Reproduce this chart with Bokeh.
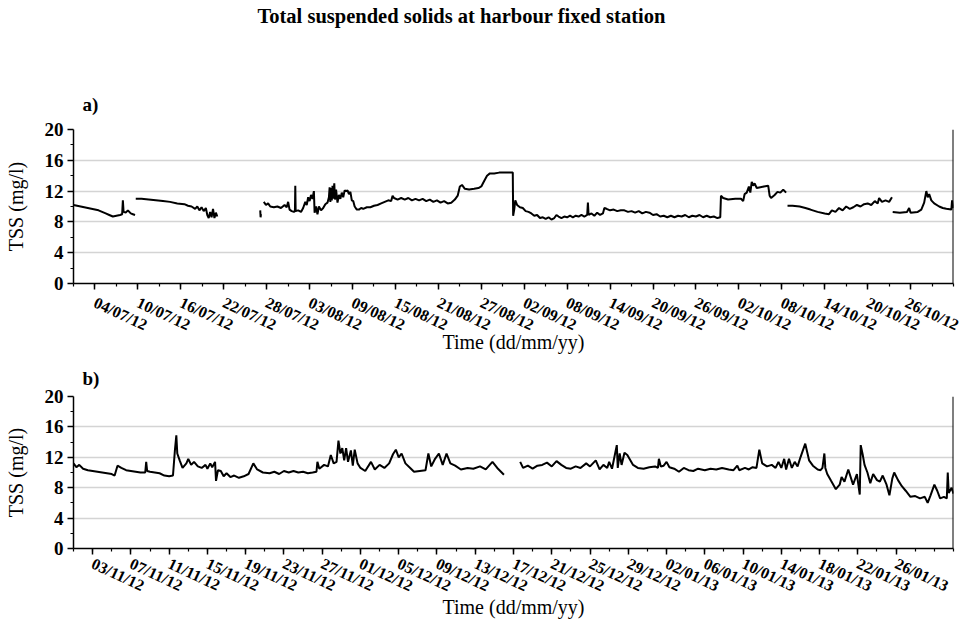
import numpy as np
import pandas as pd
from bokeh.plotting import figure
from bokeh.models import Range1d, FixedTicker, DatetimeTickFormatter, Title, Span
from bokeh.layouts import column
from bokeh.embed import file_html
from bokeh.resources import INLINE

TITLE = "Total suspended solids at harbour fixed station"
Y_LABEL = "TSS (mg/l)"
X_LABEL = "Time (dd/mm/yy)"
FONT = "Liberation Serif"

# ---------------- panel a) : 01/07/12 - 01/11/12 ----------------
A_START, A_END = "2012-07-01", "2012-11-01"
# days since A_START ; None = gap in the record
a_day = [0.0, 0.5, 1.0, 1.5, 2.0, 2.5, 3.0, 3.5, 4.0, 4.5, 5.0, 5.5, 6.0, 6.5, 6.8, 6.9, 7.0, 7.3, 7.6, 8.0, 8.3, 8.6, 8.65,
         8.7, 9.5, 10.5, 11.5, 12.5, 13.5, 14.5, 15.5, 16.0, 16.5, 17.0, 17.3, 17.6, 17.9, 18.2, 18.5,
         18.7, 18.9, 19.1, 19.3, 19.5, 19.7, 19.9, 20.1, 20.2,
         26.1, 26.15, 26.2, 26.3,
         26.6, 26.9, 27.2, 27.5, 28.0, 28.5, 29.0, 29.5, 29.8, 30.0, 30.2, 30.5, 30.8, 30.95, 31.0, 31.05, 31.4, 31.8,
         32.1, 32.4, 32.6, 32.8, 33.0, 33.2, 33.4, 33.6, 33.7, 33.9, 34.1, 34.3, 34.6, 34.9, 35.2, 35.5, 35.7, 35.8,
         35.9, 36.0, 36.1, 36.2, 36.3, 36.45, 36.55, 36.7, 36.9, 37.1, 37.3, 37.5, 37.7, 37.9, 38.1, 38.3, 38.5, 38.7,
         38.9, 39.1, 39.3, 39.6, 39.9, 40.2, 40.5, 41.0, 41.5, 42.0, 42.5, 43.0, 43.5, 44.0, 44.4, 44.6,
         44.8, 45.3, 45.8, 46.3, 46.8, 47.3, 47.8, 48.3, 48.8, 49.3, 49.8, 50.3, 50.8, 51.3, 51.8, 52.3,
         52.8, 53.3, 53.7, 54.0, 54.3, 54.7, 55.3, 56.0, 56.6, 57.0, 57.4,
         57.8, 58.2, 58.8, 59.5, 60.3, 61.0, 61.4, 61.45,
         61.6, 61.75, 62.0, 62.4, 62.8, 63.2, 63.6, 64.0, 64.4, 64.8, 65.2, 65.6, 66.0, 66.4, 66.8, 67.2, 67.5, 67.8,
         68.2, 68.6, 69.0, 69.4, 69.8, 70.2, 70.6, 71.0, 71.4, 71.8, 71.9, 72.0, 72.4, 72.8, 73.2, 73.6, 74.0, 74.2,
         74.5, 75.0, 75.5, 76.0, 76.5, 77.0, 77.5, 78.0, 78.5, 79.0, 79.5, 80.0, 80.5, 81.0, 81.5, 82.0, 82.5,
         83.0, 83.5, 84.0, 84.5, 85.0, 85.5, 86.0, 86.5, 87.0, 87.5, 88.0, 88.5, 89.0, 89.5, 90.0, 90.4,
         90.5, 90.8,
         91.5, 92.5, 93.3, 93.6, 93.8, 94.1, 94.4, 94.6, 94.8, 95.0, 95.2, 95.5, 96.0, 96.5, 97.1, 97.3, 97.5, 98.0,
         98.4, 98.8, 99.2, 99.6, 99.7,
         99.8, 100.5, 101.5, 102.3, 103.0, 104.0, 105.0, 105.6, 106.0, 106.5, 107.0, 107.5, 108.0, 108.5, 109.0,
         109.5, 110.0, 110.5, 111.0, 111.5, 112.0, 112.4, 112.6, 113.0, 113.5, 114.0, 114.4, 114.45,
         114.5, 115.5, 116.5, 116.8, 117.0, 118.0, 118.5, 118.9, 119.2, 119.4, 119.6, 119.9, 120.3, 121.0, 121.5,
         122.0, 122.7, 122.8, 123.0]
a_tss = [10.2, 10.1, 10.0, 9.9, 9.8, 9.7, 9.6, 9.5, 9.3, 9.1, 8.9, 8.7, 8.8, 8.9, 9.0, 10.8, 9.3, 9.2, 9.5, 9.1, 9.0, 8.9, None,
         11.0, 11.0, 10.9, 10.8, 10.7, 10.6, 10.4, 10.3, 10.1, 10.0, 9.7, 10.0, 9.5, 9.9, 9.4, 9.8,
         8.9, 8.5, 9.3, 8.6, 9.7, 8.5, 9.2, 8.7, None,
         9.5, 8.6, 9.0, None,
         10.6, 10.2, 10.4, 10.0, 9.9, 10.0, 9.8, 10.2, 9.9, 10.6, 9.6, 9.4, 9.3, 9.4, 12.7, 9.4, 9.5, 9.3,
         9.8, 10.6, 10.2, 11.2, 10.7, 11.5, 11.0, 12.0, 9.2, 10.0, 9.0, 10.0, 9.5, 9.8, 10.3, 10.5, 11.2, 12.5,
         10.6, 12.4, 10.8, 12.7, 11.0, 13.0, 10.9, 12.2, 10.5, 11.5, 11.0, 11.8, 11.2, 12.1, 12.0, 12.1, 11.6, 11.9,
         10.8, 10.7, 10.0, 9.6, 9.6, 9.8, 9.7, 9.9, 9.9, 10.1, 10.2, 10.4, 10.6, 10.8, 10.7, 11.4,
         11.1, 10.9, 11.1, 10.9, 11.1, 10.8, 11.0, 10.8, 11.0, 10.7, 10.9, 10.6, 10.8, 10.5, 10.7, 10.4,
         10.5, 10.9, 11.4, 12.6, 12.8, 12.3, 12.2, 12.3, 12.4, 12.6, 13.3,
         14.0, 14.3, 14.3, 14.4, 14.4, 14.4, 14.4, 8.8,
         9.6, 10.8, 10.2, 9.9, 9.8, 9.4, 9.3, 9.1, 8.8, 8.9, 8.5, 8.6, 8.4, 8.6, 8.3, 8.5, 8.9, 8.7,
         8.5, 8.7, 8.6, 8.8, 8.6, 8.8, 8.7, 8.9, 8.7, 8.9, 10.5, 8.9, 9.1, 8.8, 9.2, 8.9, 9.1, 9.8,
         9.7, 9.5, 9.6, 9.4, 9.5, 9.5, 9.3, 9.4, 9.2, 9.4, 9.1, 9.3, 9.2, 8.9, 9.0, 8.7, 8.8,
         8.6, 8.8, 8.6, 8.8, 8.7, 8.9, 8.6, 8.8, 8.7, 8.9, 8.6, 8.8, 8.6, 8.7, 8.5, 8.6,
         11.4, 11.1,
         10.9, 11.0, 11.0, 10.7, 11.6, 11.8, 12.6, 11.8, 13.2, 12.7, 13.0, 12.4, 12.5, 12.6, 12.7, 11.4, 11.1, 11.5,
         11.9, 11.8, 12.2, 11.8, None,
         10.1, 10.1, 10.0, 9.8, 9.6, 9.3, 9.1, 9.0, 9.5, 9.3, 9.8, 9.5, 10.0, 9.7, 9.9,
         10.2, 10.0, 10.3, 10.4, 10.2, 10.7, 10.4, 11.1, 10.6, 10.8, 10.6, 11.2, None,
         9.3, 9.2, 9.3, 9.8, 9.2, 9.3, 9.6, 10.5, 12.0, 11.2, 11.6, 10.8, 10.4, 10.0, 9.8,
         9.7, 9.6, 10.8, 9.8]
a_ticks = ["2012-07-04", "2012-07-10", "2012-07-16", "2012-07-22", "2012-07-28", "2012-08-03", "2012-08-09",
           "2012-08-15", "2012-08-21", "2012-08-27", "2012-09-02", "2012-09-08", "2012-09-14", "2012-09-20",
           "2012-09-26", "2012-10-02", "2012-10-08", "2012-10-14", "2012-10-20", "2012-10-26"]

# ---------------- panel b) : 01/11/12 - 01/02/13 ----------------
B_START, B_END = "2012-11-01", "2013-02-01"
b_day = [0.0, 0.3, 0.6, 1.0, 1.5, 2.0, 2.5, 3.0, 3.5, 4.0, 4.3, 4.6, 5.0, 5.5, 6.0, 6.5, 7.0, 7.5, 7.6, 7.7, 8.0,
         8.5, 9.0, 9.5, 10.0, 10.4, 10.6, 10.75, 10.85, 11.1, 11.4, 11.8, 12.0, 12.3, 12.6, 13.0, 13.4, 13.8, 14.0,
         14.3, 14.5, 14.8, 14.9, 15.1, 15.4, 15.7, 16.0, 16.4, 16.8, 17.3, 17.8, 18.3, 18.8, 19.2, 19.8, 20.5, 21.0,
         21.5, 22.0, 22.5, 23.0, 23.5, 24.0, 24.5, 25.0, 25.4, 25.5, 25.7, 26.2, 26.6, 26.9, 27.2, 27.5, 27.7, 27.9,
         28.1, 28.3, 28.5, 28.7, 29.0, 29.2, 29.4, 29.7, 30.0, 30.5, 31.1, 31.5, 32.0, 32.5, 33.0, 33.4, 33.7, 34.0,
         34.3, 34.7, 35.2, 35.6, 36.2, 36.8, 37.1, 37.4, 37.8, 38.2, 38.6, 39.0, 39.4, 39.9, 40.5, 41.2, 41.8, 42.5,
         43.1, 43.8, 44.3, 45.0, 45.1,
         46.7, 47.0, 47.5, 48.0, 48.5, 49.0, 49.5, 50.0, 50.5, 51.0, 51.5, 52.0, 52.5, 53.0, 53.6, 54.0, 54.6, 55.0,
         55.4, 55.8, 56.0, 56.3, 56.8, 56.9, 57.1, 57.3, 57.6, 57.9, 58.5, 59.0, 59.6, 60.2, 60.8, 61.1, 61.2, 61.4,
         61.7, 62.0, 62.3, 62.8, 63.3, 63.8, 64.3, 64.8, 65.3, 66.0, 66.6, 67.2, 67.8, 68.5, 69.0, 69.4, 69.6, 70.2,
         70.6, 71.0, 71.4, 71.7, 72.0, 72.5, 73.0, 73.4, 73.7, 74.0, 74.3, 74.5, 74.8, 75.1, 75.4, 75.7, 76.0, 76.5,
         76.9, 77.3, 77.8, 78.1, 78.3, 78.5, 78.6, 78.8, 79.2, 79.7, 80.1, 80.3, 80.6, 81.0, 81.3, 81.5, 81.9, 82.2,
         82.3, 82.5, 82.7, 83.0, 83.3, 83.6, 84.0, 84.3, 84.6, 85.0, 85.3, 85.6, 85.8, 86.2, 86.6, 87.0, 87.5, 88.0,
         88.5, 89.0, 89.3, 89.6, 90.0, 90.3, 90.6, 91.0, 91.3, 91.4, 91.5, 91.8, 92.0]
b_tss = [11.2, 10.7, 11.0, 10.5, 10.3, 10.2, 10.1, 10.0, 9.9, 9.8, 9.6, 10.9, 10.6, 10.3, 10.2, 10.1, 10.0, 10.0, 11.4, 10.2, 10.1,
         10.0, 9.9, 9.6, 9.5, 9.6, 12.9, 14.9, 12.5, 11.6, 10.6, 11.2, 11.8, 11.0, 11.4, 10.8, 10.6, 11.0, 10.5,
         11.2, 10.7, 11.4, 8.9, 10.3, 10.2, 9.5, 9.9, 9.4, 9.6, 9.3, 9.5, 9.8, 11.2, 10.4, 10.0, 9.9, 10.1,
         9.8, 10.2, 10.0, 10.2, 10.0, 10.1, 9.9, 10.0, 10.1, 11.4, 10.5, 11.0, 10.8, 12.3, 11.2, 11.4, 14.2, 12.5,
         13.2, 11.6, 13.2, 11.4, 12.9, 10.9, 13.0, 11.2, 10.6, 10.2, 11.4, 10.4, 11.0, 10.6, 11.2, 12.4, 13.0, 12.0,
         12.5, 11.2, 10.6, 10.1, 10.2, 10.3, 12.5, 10.8, 11.8, 12.5, 11.0, 12.5, 11.2, 10.9, 10.4, 10.6, 10.5, 10.8,
         10.4, 11.4, 10.6, 9.7, None,
         11.4, 10.6, 10.9, 10.5, 10.9, 11.0, 11.3, 10.8, 11.5, 11.0, 10.6, 10.5, 10.8, 10.6, 11.2, 10.8, 11.6, 10.4,
         11.0, 10.6, 11.4, 10.5, 13.6, 10.6, 12.5, 11.0, 12.6, 12.3, 11.0, 10.6, 10.5, 10.7, 10.8, 10.6, 11.8, 10.8,
         10.9, 11.4, 10.7, 10.5, 10.1, 10.6, 10.3, 10.2, 10.5, 10.3, 10.5, 10.4, 10.6, 10.4, 10.3, 10.9, 10.3, 10.6,
         10.4, 10.7, 10.6, 13.0, 11.2, 10.8, 11.0, 10.6, 11.4, 10.6, 11.8, 10.4, 11.8, 10.6, 11.4, 10.8, 12.0, 13.8,
         11.6, 10.9, 10.4, 10.3, 10.6, 12.5, 10.6, 9.8, 8.9, 7.8, 8.4, 9.4, 8.8, 10.4, 9.2, 8.4, 9.8, 7.1,
         13.6, 12.4, 11.0, 10.0, 8.6, 9.8, 9.0, 8.8, 9.6, 8.4, 7.0, 9.2, 10.0, 9.0, 8.2, 7.6, 6.8, 6.9,
         6.6, 6.8, 6.0, 7.0, 8.4, 7.6, 6.6, 6.8, 6.6, 10.0, 7.3, 8.0, 7.2]
b_ticks = ["2012-11-03", "2012-11-07", "2012-11-11", "2012-11-15", "2012-11-19", "2012-11-23", "2012-11-27",
           "2012-12-01", "2012-12-05", "2012-12-09", "2012-12-13", "2012-12-17", "2012-12-21", "2012-12-25",
           "2012-12-29", "2013-01-02", "2013-01-06", "2013-01-10", "2013-01-14", "2013-01-18", "2013-01-22",
           "2013-01-26"]

Y_TICKS = [0, 4, 8, 12, 16, 20]
Y_MINOR = [2, 6, 10, 14, 18]

EPOCH = pd.Timestamp("1970-01-01")


def to_ms(dates):
    return list((pd.to_datetime(dates) - EPOCH) / pd.Timedelta(milliseconds=1))


def make_panel(tag, start, end, days, vals, ticks, minor_step, height, top, bottom,
               lab_standoff, xlab_standoff, tag_standoff):
    n = min(len(days), len(vals))
    t0 = pd.Timestamp(start)
    x = (t0 + pd.to_timedelta(np.array(days[:n]), unit="D") - EPOCH) / pd.Timedelta(milliseconds=1)
    y = np.array(vals[:n], dtype=float)
    x0, x1 = to_ms([start, end])
    p = figure(width=961, height=height, output_backend="svg", toolbar_location=None,
               x_axis_type="datetime", x_range=Range1d(x0, x1), y_range=Range1d(0, 20),
               min_border_left=73, min_border_right=8, min_border_top=top, min_border_bottom=bottom,
               background_fill_color="white", border_fill_color="white", outline_line_color=None)
    p.line(np.asarray(x), y, line_color="black", line_width=2.0)

    minor = to_ms(pd.date_range(start, end, freq=minor_step))
    p.xaxis.ticker = FixedTicker(ticks=to_ms(ticks), minor_ticks=minor)
    fmt = "%d/%m/%y"
    p.xaxis.formatter = DatetimeTickFormatter(days=fmt, months=fmt, years=fmt, hours=fmt, minutes=fmt,
                                              hourmin=fmt, seconds=fmt, minsec=fmt, milliseconds=fmt,
                                              microseconds=fmt)
    p.xaxis.major_label_orientation = -0.44
    p.xaxis.major_label_standoff = lab_standoff
    p.xaxis.axis_label = X_LABEL
    p.xaxis.axis_label_standoff = xlab_standoff

    p.yaxis.ticker = FixedTicker(ticks=Y_TICKS, minor_ticks=Y_MINOR)
    p.yaxis.axis_label = Y_LABEL
    p.yaxis.axis_label_standoff = 15
    p.yaxis.major_label_standoff = 4

    for ax in [p.xaxis[0], p.yaxis[0]]:
        ax.axis_line_color = "black"
        ax.axis_line_width = 1.5
        ax.major_tick_line_color = "black"
        ax.major_tick_line_width = 1.5
        ax.minor_tick_line_color = "black"
        ax.minor_tick_line_width = 1.2
        ax.major_tick_in = 0
        ax.major_tick_out = 6
        ax.minor_tick_in = 0
        ax.minor_tick_out = 3
        ax.major_label_text_font = FONT
        ax.major_label_text_font_style = "bold"
        ax.major_label_text_color = "black"
        ax.axis_label_text_font = FONT
        ax.axis_label_text_font_style = "normal"
        ax.axis_label_text_font_size = "20px"
        ax.axis_label_text_color = "black"
    p.xaxis.major_label_text_font_size = "16px"
    p.yaxis.major_label_text_font_size = "19px"

    p.add_layout(Span(location=x1, dimension="height", line_color="black", line_width=2))

    p.xgrid.visible = False
    p.ygrid.grid_line_color = "#d4d4d4"
    p.ygrid.grid_line_width = 1.5

    p.add_layout(Title(text=tag, align="left", offset=9, text_font=FONT, text_font_style="bold",
                       text_font_size="19px", text_color="black", standoff=tag_standoff), "above")
    return p


pa = make_panel("a)", A_START, A_END, a_day, a_tss, a_ticks, "3D", 357, 129, 74, 12, -13, 29)
# spacer between the panel tag and the main title, then the main title on top
pa.add_layout(Title(text=" ", text_font_size="10px", standoff=36), "above")
pa.add_layout(Title(text=TITLE, align="left", offset=184, text_font=FONT, text_font_style="bold",
                    text_font_size="20.5px", text_color="black", standoff=4), "above")
pb = make_panel("b)", B_START, B_END, b_day, b_tss, b_ticks, "2D", 265, 37, 74, 8, -9, 16)

layout = column(pa, pb, spacing=0)
open("out.html", "w").write(file_html(layout, INLINE))
